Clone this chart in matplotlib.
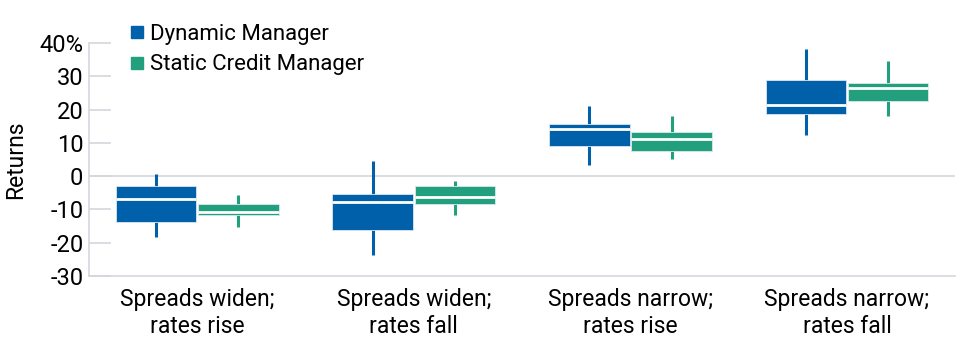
import matplotlib.pyplot as plt
import numpy as np
from matplotlib.lines import Line2D

plt.rcParams['font.family'] = ['Roboto', 'DejaVu Sans']

categories = ["Spreads widen;\nrates rise", "Spreads widen;\nrates fall",
              "Spreads narrow;\nrates rise", "Spreads narrow;\nrates fall"]

# whisker low, box low, median, box high, whisker high
dyn_low = [-18.2, -23.7, 3.3, 12.4]
dyn_q1 = [-13.7, -16.2, 9.1, 18.8]
dyn_med = [-6.8, -7.9, 14.2, 21.5]
dyn_q3 = [-3.0, -5.4, 15.8, 28.9]
dyn_high = [0.7, 4.6, 21.0, 38.3]

sta_low = [-15.4, -11.7, 5.0, 18.2]
sta_q1 = [-11.7, -8.5, 7.6, 22.6]
sta_med = [-10.9, -6.2, 11.2, 26.6]
sta_q3 = [-8.5, -3.0, 13.2, 28.1]
sta_high = [-5.7, -1.4, 18.0, 34.7]

yticks = [-30, -20, -10, 0, 10, 20, 30, 40]
ytick_labels = ["-30", "-20", "-10", "0", "10", "20", "30", "40%"]

blue = "#0060A9"
green = "#22A07D"
grid = "#d3d7dc"

fig = plt.figure(figsize=(9.6, 3.52), dpi=100)
ax = fig.add_axes([0.0927, 0.216, 0.9023, 0.662])

x = np.arange(len(categories))
w = 0.372
off = 0.19

series = [
    (x - off, dyn_low, dyn_q1, dyn_med, dyn_q3, dyn_high, blue),
    (x + off, sta_low, sta_q1, sta_med, sta_q3, sta_high, green),
]
for xs, lo, q1, med, q3, hi, c in series:
    ax.vlines(xs, lo, hi, color=c, lw=2.2, zorder=2)
    ax.bar(xs, np.array(q3) - np.array(q1), bottom=q1, width=w,
           color=c, edgecolor="#dce6ee", linewidth=0.6, zorder=3)
    ax.hlines(med, xs - w / 2, xs + w / 2, color="white", lw=2.0, zorder=4)

ax.axhline(0, color=grid, lw=1.2, zorder=1)

ax.set_xlim(-0.5, 3.5)
ax.set_ylim(-30, 40)
ax.set_yticks(yticks)
ax.set_yticklabels(ytick_labels)
ax.set_xticks(x)
ax.set_xticklabels(categories, fontsize=16.5, linespacing=1.2)

for s in ["top", "right"]:
    ax.spines[s].set_visible(False)
for s in ["left", "bottom"]:
    ax.spines[s].set_color(grid)
    ax.spines[s].set_linewidth(1.2)

ax.tick_params(axis="y", direction="in", length=16, width=1.2, color=grid,
               labelsize=17, pad=4)
ax.tick_params(axis="x", length=0, pad=9)
ax.set_ylabel("Returns", fontsize=16.5)
ax.yaxis.set_label_coords(-0.072, 0.5)

handles = [
    Line2D([], [], marker="s", color=blue, lw=0, markersize=8.6, label="Dynamic Manager"),
    Line2D([], [], marker="s", color=green, lw=0, markersize=8.6, label="Static Credit Manager"),
]
fig.legend(handles=handles, loc="upper left", bbox_to_anchor=(0.124, 0.957),
           frameon=False, fontsize=16, handletextpad=0.2, labelspacing=0.42,
           handlelength=0.8, borderaxespad=0.0)

fig.savefig("out.png", dpi=100)
